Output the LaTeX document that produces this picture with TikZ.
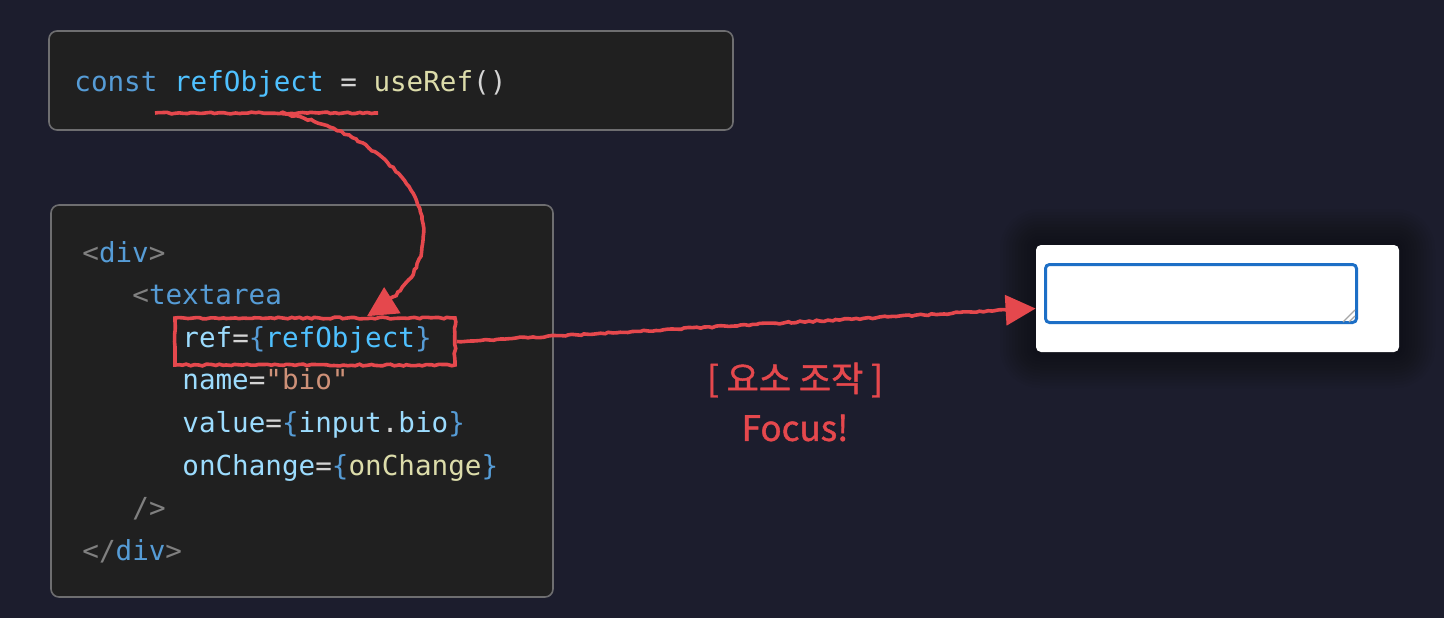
\documentclass[tikz,border=0pt]{standalone}
\usepackage{fontspec}
\setmonofont{DejaVu Sans Mono}
\newfontfamily\krfont[FakeBold=1.2]{Noto Sans CJK KR}
\usetikzlibrary{positioning,arrows.meta,decorations.pathmorphing}

\definecolor{bg}{HTML}{1C1D2D}
\definecolor{codebg}{HTML}{202020}
\definecolor{frame}{HTML}{6E6E70}
\definecolor{kw}{HTML}{569CD6}
\definecolor{var}{HTML}{4FC1FF}
\definecolor{attr}{HTML}{9CDCFE}
\definecolor{fn}{HTML}{DCDCAA}
\definecolor{str}{HTML}{CE9178}
\definecolor{punc}{HTML}{808080}
\definecolor{op}{HTML}{D4D4D4}
\definecolor{pen}{HTML}{E5484D}
\definecolor{focusblue}{HTML}{1D6FC6}

\begin{document}
\begin{tikzpicture}[x=0.5pt,y=-0.5pt,
    code/.style={anchor=base west,inner sep=0pt,font=\ttfamily\fontsize{13.8}{16}\selectfont},
    panel/.style={draw=frame,fill=codebg,rounded corners=4pt,line width=0.8pt},
    rough/.style={draw=pen,line width=1.8pt,decorate,
      decoration={random steps,segment length=2pt,amplitude=0.45pt,post length=7pt}},
    tip/.style={-{Triangle[length=15pt,width=15pt]}},
    note/.style={text=pen,inner sep=0pt,font=\krfont\fontsize{17.5}{20}\selectfont}]
  \useasboundingbox[fill=bg] (0,0) rectangle (1444,618);

  % code panels
  \draw[panel] (49,31) rectangle (733,130);
  \draw[panel] (51,205) rectangle (553,597);

  \node[code] (decl) at (74,91) {\textcolor{kw}{const} \textcolor{var}{refObject} \textcolor{op}{=} \textcolor{fn}{useRef}\textcolor{op}{()}};

  \node[code] (l_1) at (82,262) {\textcolor{punc}{<}\textcolor{kw}{div}\textcolor{punc}{>}};
  \node[code] (l_2) at (132,304.6) {\textcolor{punc}{<}\textcolor{kw}{textarea}};
  \node[code] (l_3) at (182,347.2) {\textcolor{attr}{ref}\textcolor{op}{=}\textcolor{kw}{\{}\textcolor{var}{refObject}\textcolor{kw}{\}}};
  \node[code] (l_4) at (182,389.8) {\textcolor{attr}{name}\textcolor{op}{=}\textcolor{str}{"bio"}};
  \node[code] (l_5) at (182,432.4) {\textcolor{attr}{value}\textcolor{op}{=}\textcolor{kw}{\{}\textcolor{attr}{input}\textcolor{op}{.}\textcolor{attr}{bio}\textcolor{kw}{\}}};
  \node[code] (l_6) at (182,475) {\textcolor{attr}{onChange}\textcolor{op}{=}\textcolor{kw}{\{}\textcolor{fn}{onChange}\textcolor{kw}{\}}};
  \node[code] (l_7) at (132,517.6) {\textcolor{punc}{/>}};
  \node[code] (l_8) at (82,560.2) {\textcolor{punc}{</}\textcolor{kw}{div}\textcolor{punc}{>}};

  % rendered textarea
  \foreach \s in {1,...,12}
    \fill[black,opacity=0.03,rounded corners=2pt+\s*1.5pt] (1036-\s*3,245-\s*3) rectangle (1399+\s*3,352+\s*3);
  \node[fill=white,rounded corners=2.5pt,minimum width=181.5pt,minimum height=53.5pt,inner sep=0pt] (card) at (1217.5,298.5) {};
  \node[draw=focusblue,line width=1.5pt,rounded corners=2pt,minimum width=155.5pt,minimum height=29pt,inner sep=0pt] (ta) at (1201,293.5) {};
  \draw[gray!70,line width=0.6pt] (1343,322) -- (1355,310) (1349,322) -- (1355,316);

  % annotations
  \node[rough,draw,rectangle,minimum width=140pt,minimum height=23.5pt,inner sep=0pt,
    decoration={random steps,segment length=2pt,amplitude=0.45pt}] (hl) at (315,341.5) {};
  \coordinate (ul_a) at (155,113);
  \coordinate (ul_b) at (378,113);
  \coordinate (ul_m) at (280,113);
  \draw[rough,decoration={post length=0pt}] (ul_a) -- (ul_b);
  \draw[rough,tip] (ul_m) .. controls (410,135) and (480,250) .. ([xshift=26pt]hl.north);
  \draw[rough,tip] (hl.east) -- ([yshift=-5pt]card.west);

  \node[note] (task) at (795,380) {[ 요소 조작 ]};
  \node[note] (focus) at (795,428) {Focus!};
\end{tikzpicture}
\end{document}
